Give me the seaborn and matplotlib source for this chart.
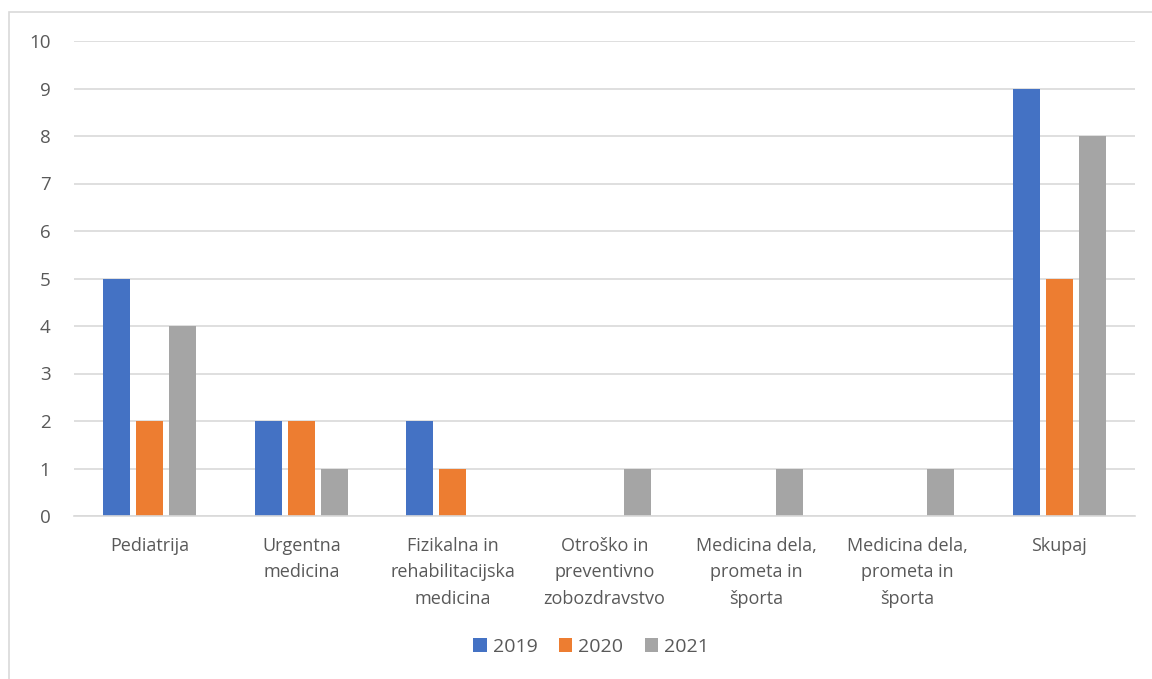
import matplotlib
matplotlib.use("Agg")
import matplotlib.pyplot as plt
from matplotlib.patches import Patch, Rectangle
import seaborn as sns
import pandas as pd

categories = ["Pediatrija", "Urgentna\nmedicina", "Fizikalna in\nrehabilitacijska\nmedicina",
              "Otroško in\npreventivno\nzobozdravstvo", "Medicina dela,\nprometa in\nšporta",
              "Medicina dela,\nprometa in\nšporta", "Skupaj"]
years = ["2019", "2020", "2021"]
v2019 = [5, 2, 2, 0, 0, 0, 9]
v2020 = [2, 2, 1, 0, 0, 0, 5]
v2021 = [4, 1, 0, 1, 1, 1, 8]
colors = ["#4472C4", "#ED7D31", "#A5A5A5"]

rows = []
for i, _ in enumerate(categories):
    for y, vals in zip(years, [v2019, v2020, v2021]):
        rows.append({"cat": f"c{i}", "year": y, "value": vals[i]})
df = pd.DataFrame(rows)

sns.set_style("white")
plt.rcParams['font.family'] = ['Open Sans', 'DejaVu Sans']

fig = plt.figure(figsize=(11.52, 6.79), dpi=100)
ax = fig.add_axes([74/1152, 1-516/679, (1135-74)/1152, (516-41)/679])

sns.barplot(data=df, x="cat", y="value", hue="year", palette=colors,
            width=0.653, gap=0.18, ax=ax, legend=False, saturation=1,
            edgecolor="none", linewidth=0)

ax.set_ylim(0, 10)
ax.set_yticks(range(0, 11))
ax.set_xlim(-0.5, len(categories) - 0.5)
ax.yaxis.grid(True, color="#d9d9d9", linewidth=1.2)
ax.set_axisbelow(True)
for s in ["top", "right", "left"]:
    ax.spines[s].set_visible(False)
ax.spines["bottom"].set_color("#d9d9d9")
ax.spines["bottom"].set_linewidth(1.2)
ax.set_xticks(range(len(categories)))
ax.set_xticklabels(categories, fontsize=13, color="#595959", linespacing=1.6, va="top")
ax.tick_params(axis="y", labelsize=13.5, labelcolor="#595959", length=0, pad=17)
ax.tick_params(axis="x", length=0, pad=15)
ax.set_xlabel("")
ax.set_ylabel("")

handles = [Patch(facecolor=c, edgecolor="none", label=y) for c, y in zip(colors, years)]
fig.legend(handles=handles, loc="center", bbox_to_anchor=(591/1152, 1-647/679), ncol=3,
           frameon=False, fontsize=14, labelcolor="#595959", handlelength=0.7, handleheight=0.7,
           columnspacing=1.1, handletextpad=0.3)

fig.patches.append(Rectangle((9/1152, -0.1), 1.2, 1.1 - 12/679, transform=fig.transFigure,
                             facecolor="none", edgecolor="#d9d9d9", linewidth=1.2))

fig.savefig("out.png", dpi=100)
